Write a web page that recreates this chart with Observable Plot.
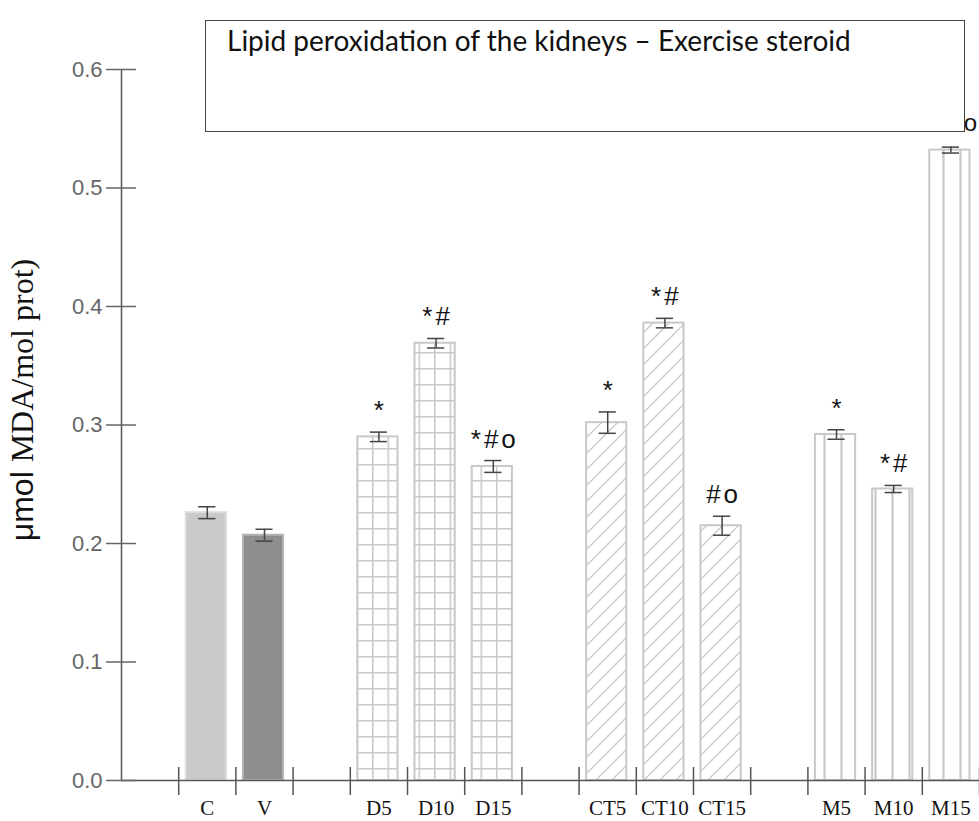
<!DOCTYPE html>
<html><head><meta charset="utf-8">
<script src="https://cdn.jsdelivr.net/npm/d3@7"></script>
<script src="https://cdn.jsdelivr.net/npm/@observablehq/plot@0.6"></script>
<style>
body{margin:0;background:#fff}
#wrap{position:relative;width:979px;height:821px;overflow:hidden}
#title{position:absolute;left:205px;top:20px;width:760px;height:112px;box-sizing:border-box;border:1.5px solid #444;background:#fff;font-family:Lato,"Open Sans",sans-serif;font-size:28px;line-height:32px;padding:3px 0 0 21px;color:#111;white-space:nowrap}
#ylab{position:absolute;left:22px;top:400px;width:0;height:0}
#ylab .in{position:absolute;left:0;top:0;white-space:nowrap;transform:translate(-50%,-50%) rotate(-90deg);font-size:32px;line-height:1;color:#111}
#ylab .sans{font-family:"Liberation Sans",Arial,sans-serif}
#ylab .serif{font-family:"Liberation Serif","Times New Roman",serif}
#chart svg g[aria-label="text"] text{letter-spacing:3px}
#chart svg g[aria-label="y-axis tick label"] text{font-size:22px !important;font-family:"Liberation Sans",Arial,sans-serif !important}
#chart svg g[aria-label="x-axis tick label"] text{font-size:21px !important;font-family:"Liberation Serif","Times New Roman",serif !important}
</style></head>
<body>
<div id="wrap">
  <div id="chart"></div>
  <div id="title">Lipid peroxidation of the kidneys – Exercise steroid</div>
  <div id="ylab"><div class="in"><span class="sans">μmol </span><span class="serif">MDA/mol prot)</span></div></div>
</div>
<script>
// ---- data ----
const slots = ["C","V","","D5","D10","D15","","CT5","CT10","CT15","","M5","M10","M15"];
const categories = ["C","V","D5","D10","D15","CT5","CT10","CT15","M5","M10","M15"];
const groups = ["control","vehicle","D","D","D","CT","CT","CT","M","M","M"];
const values = [0.226,0.207,0.290,0.369,0.265,0.302,0.386,0.215,0.292,0.246,0.532];
const errors = [0.005,0.005,0.004,0.004,0.005,0.009,0.004,0.008,0.004,0.003,0.0025];
const annotations = ["","","*","*#","*#o","*","*#","#o","*","*#",""];
const sideAnnotations = ["","","","","","","","","","","o"];
const yTicks = [0,0.1,0.2,0.3,0.4,0.5,0.6];

// ---- styles ----
const fillFor = {control:"#c9c9c9", vehicle:"#8e8e8e", D:"url(#pat-grid)", CT:"url(#pat-diag)", M:"url(#pat-vert)"};
const strokeFor = {control:"#dcdcdc", vehicle:"#b5b5b5", D:"#c8c8c8", CT:"#c8c8c8", M:"#c8c8c8"};

const data = categories.map((c,i)=>({
  cat:c, pos:slots.indexOf(c), value:values[i], err:errors[i], group:groups[i],
  anno:annotations[i], side:sideAnnotations[i]
}));
const boundaries = d3.range(slots.length + 1);
const centers = slots.map((s,i)=> s ? i + 0.5 : null).filter(v => v !== null);

function defs() {
  const ns = "http://www.w3.org/2000/svg";
  const g = document.createElementNS(ns, "defs");
  g.innerHTML = `
  <pattern id="pat-grid" patternUnits="userSpaceOnUse" width="15.5" height="16">
    <rect width="15.5" height="16" fill="#fff"/>
    <path d="M0.75,0V16M0,0.75H15.5" stroke="#c8c8c8" stroke-width="1.5" fill="none"/>
  </pattern>
  <pattern id="pat-diag" patternUnits="userSpaceOnUse" width="16" height="16">
    <rect width="16" height="16" fill="#fff"/>
    <path d="M0,16L16,0M-4,4L4,-4M12,20L20,12" stroke="#c8c8c8" stroke-width="1.3" fill="none"/>
  </pattern>
  <pattern id="pat-vert" patternUnits="userSpaceOnUse" width="17" height="10">
    <rect width="17" height="10" fill="#fff"/>
    <path d="M8.5,0V10" stroke="#c8c8c8" stroke-width="2.2" fill="none"/>
  </pattern>`;
  return g;
}

const chart = Plot.plot({
  width: 979,
  height: 821,
  marginTop: 69,
  marginBottom: 41,
  marginLeft: 121,
  marginRight: 0,
  style: {background: "#fff", overflow: "visible"},
  x: {type: "linear", domain: [-1, slots.length]},
  y: {domain: [0, 0.6]},
  color: {type: "identity"},
  marks: [
    defs,
    Plot.rect(data, {
      x1: d => d.pos, x2: d => d.pos + 1, y1: 0, y2: "value",
      fill: d => fillFor[d.group], stroke: d => strokeFor[d.group],
      strokeWidth: 2, insetLeft: 7.5, insetRight: 9.5
    }),
    Plot.ruleX(data, {x: d => d.pos + 0.5, y1: d => d.value - d.err, y2: d => d.value + d.err, stroke: "#444", strokeWidth: 1.5}),
    Plot.ruleY(data, {y: d => d.value + d.err, x1: d => d.pos + 0.35, x2: d => d.pos + 0.65, stroke: "#444", strokeWidth: 1.5}),
    Plot.ruleY(data, {y: d => d.value - d.err, x1: d => d.pos + 0.35, x2: d => d.pos + 0.65, stroke: "#444", strokeWidth: 1.5}),
    Plot.ruleY([0], {stroke: "#555", strokeWidth: 1.5}),
    Plot.ruleX([-1], {stroke: "#555", strokeWidth: 1.5}),
    Plot.axisY({ticks: yTicks, tickFormat: d3.format(".1f"), tickSize: 30, dx: 15, tickPadding: 4,
      fontSize: 22, fontFamily: "Liberation Sans, Arial, sans-serif", color: "#666", strokeWidth: 1.5, label: null}),
    Plot.axisX({ticks: boundaries, tickFormat: () => "", tickSize: 28, dy: -13, color: "#555", strokeWidth: 1.5, label: null}),
    Plot.axisX({ticks: centers, tickFormat: d => slots[Math.floor(d)], tickSize: 0, tickPadding: 20,
      fontSize: 21, fontFamily: "Liberation Serif, Times New Roman, serif", color: "#111", label: null}),
    Plot.text(data, {x: d => d.pos + 0.5, y: d => d.value + d.err, text: "anno", dx: 1.5, dy: -13, lineAnchor: "bottom",
      fontSize: 26, fontFamily: "Liberation Sans, Arial, sans-serif", fill: "#111"}),
    Plot.text(data, {x: d => d.pos + 0.5, y: d => d.value + d.err, text: "side", dx: 21, dy: -16, lineAnchor: "bottom",
      fontSize: 24, fontFamily: "Liberation Sans, Arial, sans-serif", fill: "#111"})
  ]
});
document.getElementById("chart").appendChild(chart);
</script>
</body></html>
